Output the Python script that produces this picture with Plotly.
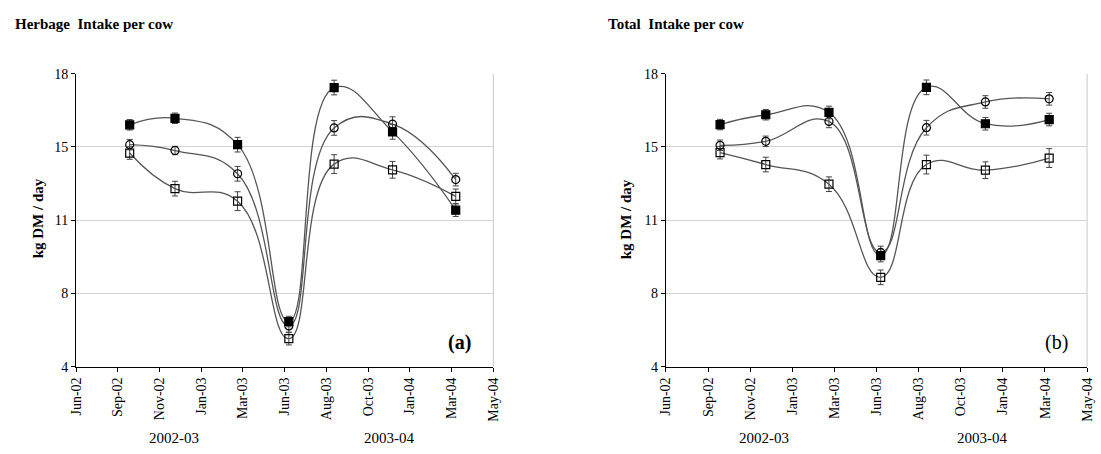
import plotly.graph_objects as go

# ---- data ----
dates = ["2002-09-22", "2002-12-07", "2003-03-22", "2003-06-16",
         "2003-08-31", "2003-12-07", "2004-03-22"]

# Panel (a) Herbage intake per cow (kg DM/day)
a_filled = [15.56, 15.87, 14.61, 6.16, 17.34, 15.22, 11.48]
a_circle = [14.61, 14.33, 13.22, 5.95, 15.41, 15.59, 12.94]
a_square = [14.21, 12.51, 11.91, 5.34, 13.68, 13.41, 12.14]
a_filled_err = [0.25, 0.25, 0.35, 0.25, 0.35, 0.35, 0.3]
a_circle_err = [0.25, 0.2, 0.35, 0.3, 0.35, 0.35, 0.3]
a_square_err = [0.3, 0.35, 0.45, 0.3, 0.45, 0.4, 0.35]

# Panel (b) Total intake per cow (kg DM/day)
b_filled = [15.57, 16.04, 16.15, 9.31, 17.35, 15.61, 15.81]
b_circle = [14.58, 14.77, 15.72, 9.46, 15.42, 16.65, 16.80]
b_square = [14.23, 13.66, 12.72, 8.27, 13.66, 13.39, 13.97]
b_filled_err = [0.25, 0.25, 0.3, 0.3, 0.35, 0.3, 0.3]
b_circle_err = [0.25, 0.25, 0.3, 0.3, 0.35, 0.3, 0.3]
b_square_err = [0.3, 0.35, 0.35, 0.35, 0.45, 0.4, 0.45]

y_tickvals = [4, 7.5, 11, 14.5, 18]
y_ticktext = ["4", "8", "11", "15", "18"]

FONT = "Liberation Serif"
LINE = "#555555"

fig = go.Figure()

def add_series(y, err, symbol, xa, ya):
    fig.add_trace(go.Scatter(
        x=dates, y=y, xaxis=xa, yaxis=ya, mode="lines+markers",
        line=dict(shape="spline", smoothing=1.3, color=LINE, width=1.3),
        marker=dict(symbol=symbol, size=8, color="black",
                    line=dict(color="black", width=1.2)),
        error_y=dict(type="data", array=err, visible=True,
                     color="#444444", thickness=1, width=3),
        showlegend=False))

add_series(a_square, a_square_err, "square-open", "x", "y")
add_series(a_circle, a_circle_err, "circle-open", "x", "y")
add_series(a_filled, a_filled_err, "square", "x", "y")
add_series(b_square, b_square_err, "square-open", "x2", "y2")
add_series(b_circle, b_circle_err, "circle-open", "x2", "y2")
add_series(b_filled, b_filled_err, "square", "x2", "y2")

xcommon = dict(type="date", range=["2002-06-24", "2004-05-24"],
               tick0="2002-06-24", dtick=70 * 86400000, tickformat="%b-%y",
               tickangle=-90, ticks="outside", ticklen=4, tickcolor="black",
               showline=True, linecolor="black", linewidth=1.2,
               showgrid=False, zeroline=False,
               tickfont=dict(family=FONT, size=14, color="black"))
ycommon = dict(range=[4, 18], tickvals=y_tickvals, ticktext=y_ticktext,
               ticks="outside", ticklen=4, tickcolor="black",
               showline=True, linecolor="black", linewidth=1.2,
               showgrid=True, gridcolor="#d4d4d4", gridwidth=1, zeroline=False,
               tickfont=dict(family=FONT, size=14, color="black"))

yd = [1 - 372 / 454, 1 - 69 / 454]
fig.update_layout(
    width=1101, height=454, margin=dict(l=0, r=0, t=0, b=0),
    paper_bgcolor="white", plot_bgcolor="white",
    xaxis=dict(domain=[70 / 1101, 493 / 1101], anchor="y", **xcommon),
    yaxis=dict(domain=yd, anchor="x", **ycommon),
    xaxis2=dict(domain=[668 / 1101, 1095 / 1101], anchor="y2", **xcommon),
    yaxis2=dict(domain=yd, anchor="x2", **ycommon),
)

# right borders of plot areas
for xr, yr in (("x domain", "y domain"), ("x2 domain", "y2 domain")):
    fig.add_shape(type="line", xref=xr, yref=yr, x0=1, x1=1, y0=0, y1=1,
                  line=dict(color="#c8c8c8", width=1))

def ann(text, x, y, size, bold=False, angle=0, xanchor="center"):
    t = f"<b>{text}</b>" if bold else text
    fig.add_annotation(text=t, x=x, y=y, xref="paper", yref="paper",
                       xanchor=xanchor, yanchor="middle", showarrow=False,
                       textangle=angle,
                       font=dict(family=FONT, size=size, color="black"))

H = 454.0
W = 1101.0
ann("Herbage  Intake per cow", 6 / W, 1 - 18 / H, 15, bold=True, xanchor="left")
ann("Total  Intake per cow", 607 / W, 1 - 18 / H, 15, bold=True, xanchor="left")
ann("kg DM / day", 31 / W, 1 - 219 / H, 15, bold=True, angle=-90)
ann("kg DM / day", 627 / W, 1 - 219 / H, 15, bold=True, angle=-90)
ann("(a)", 459 / W, 1 - 347 / H, 20, bold=True)
ann("(b)", 1064 / W, 1 - 347 / H, 20)
ann("2002-03", 169 / W, 1 - 446 / H, 15)
ann("2003-04", 387 / W, 1 - 446 / H, 15)
ann("2002-03", 767 / W, 1 - 446 / H, 15)
ann("2003-04", 988 / W, 1 - 446 / H, 15)

fig.write_html("out.html")
